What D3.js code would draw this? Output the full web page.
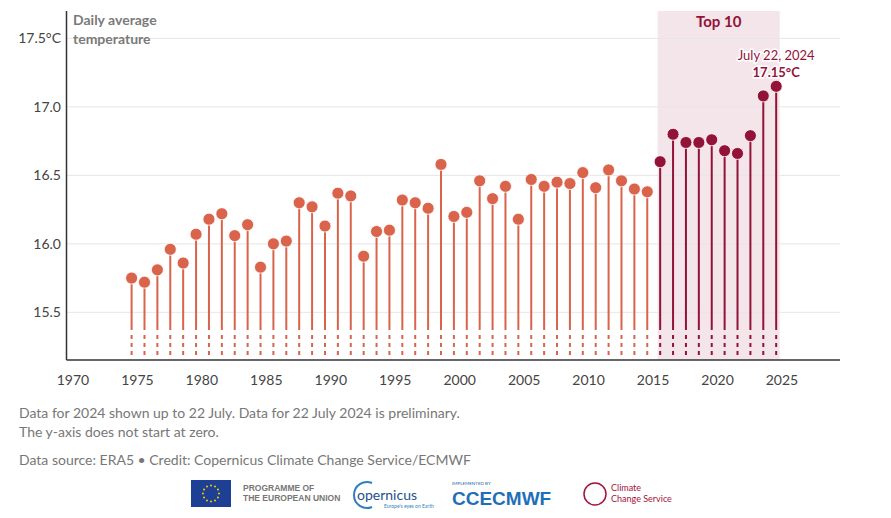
<!DOCTYPE html>
<html><head><meta charset="utf-8">
<script src="https://cdn.jsdelivr.net/npm/d3@7"></script>
<style>
html,body{margin:0;padding:0;background:#fff;}
svg{display:block;font-family:Lato,"Open Sans",sans-serif;}
</style></head>
<body><svg id="chart" width="891" height="518"></svg>
<script>
const years = d3.range(1974, 2025);
const values = [15.75,15.72,15.81,15.96,15.86,16.07,16.18,16.22,16.06,16.14,
  15.83,16.00,16.02,16.30,16.27,16.13,16.37,16.35,15.91,16.09,
  16.10,16.32,16.30,16.26,16.58,16.20,16.23,16.46,16.33,16.42,
  16.18,16.47,16.42,16.45,16.44,16.52,16.41,16.54,16.46,16.40,
  16.38,16.60,16.80,16.74,16.74,16.76,16.68,16.66,16.79,17.08,17.15];
const top10Years = [2015,2016,2017,2018,2019,2020,2021,2022,2023,2024];
const xTicks = [1970,1975,1980,1985,1990,1995,2000,2005,2010,2015,2020,2025];
const yTicks = [15.5,16.0,16.5,17.0,17.5];
const yTickLabels = ["15.5","16.0","16.5","17.0","17.5°C"];
const titleLines = ["Daily average","temperature"];
const footLines = ["Data for 2024 shown up to 22 July. Data for 22 July 2024 is preliminary.","The y-axis does not start at zero."];
const sourceLine = "Data source: ERA5 • Credit: Copernicus Climate Change Service/ECMWF";

(function(){
const data = years.map((yr,i)=>({year:yr, value:values[i], top:top10Years.includes(yr)}));
const svg = d3.select("#chart");
const pl = 66.5, pr = 840, pt = 11, pb = 360;
const x = d3.scaleLinear().domain([1969.5, 2029.5]).range([pl, pr]);
const y = d3.scaleLinear().domain([15.152, 17.70]).range([pb, pt]);
const dayOffset = 0.55; // July 22
const orange = "#d9634b", crimson = "#931238";

// band
const bx0 = x(top10Years[0]+dayOffset)-2.5, bx1 = x(top10Years[top10Years.length-1]+dayOffset)+3.5;
svg.append("rect").attr("x",bx0).attr("y",pt).attr("width",bx1-bx0).attr("height",pb-pt).attr("fill","#f4e5ea");

// grid
svg.append("g").selectAll("line").data(yTicks).join("line")
  .attr("x1",pl).attr("x2",pr).attr("y1",d=>y(d)).attr("y2",d=>y(d))
  .attr("stroke","#e6e6e6").attr("stroke-width",1);

// y labels
svg.append("g").selectAll("text").data(yTicks).join("text")
  .attr("x",61).attr("y",d=>y(d)+5).attr("text-anchor","end")
  .attr("font-size",14).attr("fill","#444").text((d,i)=>yTickLabels[i]);

// title
svg.append("g").selectAll("text").data(titleLines).join("text")
  .attr("x",73).attr("y",(d,i)=>25+i*19).attr("font-size",14).attr("font-weight","bold")
  .attr("fill","#7a7a7a").text(d=>d);

// stems
const g = svg.append("g");
const yCut = 330;
g.selectAll("line.stem").data(data).join("line").attr("class","stem")
  .attr("x1",d=>x(d.year+dayOffset)).attr("x2",d=>x(d.year+dayOffset))
  .attr("y1",d=>y(d.value)).attr("y2",yCut)
  .attr("stroke",d=>d.top?crimson:orange).attr("stroke-width",2);
g.selectAll("line.dash").data(data).join("line").attr("class","dash")
  .attr("x1",d=>x(d.year+dayOffset)).attr("x2",d=>x(d.year+dayOffset))
  .attr("y1",335).attr("y2",356)
  .attr("stroke",d=>d.top?crimson:orange).attr("stroke-width",2).attr("stroke-dasharray","4,4");
g.selectAll("circle").data(data).join("circle")
  .attr("cx",d=>x(d.year+dayOffset)).attr("cy",d=>y(d.value)).attr("r",6)
  .attr("fill",d=>d.top?crimson:orange).attr("stroke","#fff").attr("stroke-width",0.8);

// axes lines
svg.append("line").attr("x1",pl).attr("x2",pl).attr("y1",pt).attr("y2",pb).attr("stroke","#333").attr("stroke-width",1.5);
svg.append("line").attr("x1",pl).attr("x2",pr).attr("y1",pb).attr("y2",pb).attr("stroke","#333").attr("stroke-width",1.5);

// x labels
svg.append("g").selectAll("text").data(xTicks).join("text")
  .attr("x",d=>x(d)).attr("y",385).attr("text-anchor","middle")
  .attr("font-size",14).attr("fill","#444").text(d=>d);

// annotations
svg.append("text").attr("x",(bx0+bx1)/2).attr("y",27).attr("text-anchor","middle")
  .attr("font-size",15).attr("font-weight","bold").attr("fill",crimson).text("Top "+top10Years.length);
const last = data[data.length-1];
svg.append("text").attr("x",x(last.year+dayOffset)).attr("y",60).attr("text-anchor","middle")
  .attr("font-size",13).attr("fill",crimson).attr("stroke","#fff").attr("stroke-width",3).attr("paint-order","stroke")
  .text("July 22, "+last.year);
svg.append("text").attr("x",x(last.year+dayOffset)).attr("y",77).attr("text-anchor","middle")
  .attr("font-size",13).attr("font-weight","bold").attr("fill",crimson).attr("stroke","#fff").attr("stroke-width",3).attr("paint-order","stroke")
  .text(last.value.toFixed(2)+"°C");

// footer
svg.append("g").selectAll("text").data(footLines).join("text")
  .attr("x",19).attr("y",(d,i)=>418+i*19).attr("font-size",14).attr("fill","#777").text(d=>d);
svg.append("text").attr("x",19).attr("y",465).attr("font-size",14).attr("fill","#777").text(sourceLine);

// logos (approximate)
const lg = svg.append("g");
lg.append("rect").attr("x",191).attr("y",480).attr("width",40).attr("height",27).attr("fill","#1d3f94");
d3.range(12).forEach(i=>{const a=i*Math.PI/6; lg.append("circle").attr("cx",211+8*Math.cos(a)).attr("cy",493.5+8*Math.sin(a)).attr("r",1).attr("fill","#f5d000");});
lg.append("text").attr("x",243).attr("y",491).attr("font-size",8.5).attr("font-weight","bold").attr("fill","#777").attr("font-family","Liberation Sans").text("PROGRAMME OF");
lg.append("text").attr("x",243).attr("y",501).attr("font-size",8.5).attr("font-weight","bold").attr("fill","#777").attr("font-family","Liberation Sans").text("THE EUROPEAN UNION");
lg.append("path").attr("d","M372,483 A13,13 0 1,0 372,507").attr("fill","none").attr("stroke","#2f7fc0").attr("stroke-width",2);
lg.append("text").attr("x",357).attr("y",500).attr("font-size",14).attr("fill","#1e4f8a").text("opernicus");
lg.append("text").attr("x",384).attr("y",508).attr("font-size",5).attr("fill","#2f7fc0").text("Europe's eyes on Earth");
lg.append("text").attr("x",452).attr("y",485).attr("font-size",4.5).attr("fill","#1e5fa8").text("IMPLEMENTED BY");
lg.append("text").attr("x",452).attr("y",505).attr("font-size",19).attr("font-weight","bold").attr("fill","#1e6fb8").attr("font-family","Liberation Sans").text("CCECMWF");
lg.append("circle").attr("cx",595).attr("cy",494).attr("r",11).attr("fill","none").attr("stroke","#a3143c").attr("stroke-width",1.5);
lg.append("text").attr("x",611).attr("y",491).attr("font-size",9).attr("fill","#a3143c").text("Climate");
lg.append("text").attr("x",611).attr("y",502).attr("font-size",9).attr("fill","#a3143c").text("Change Service");
})();
</script></body></html>
